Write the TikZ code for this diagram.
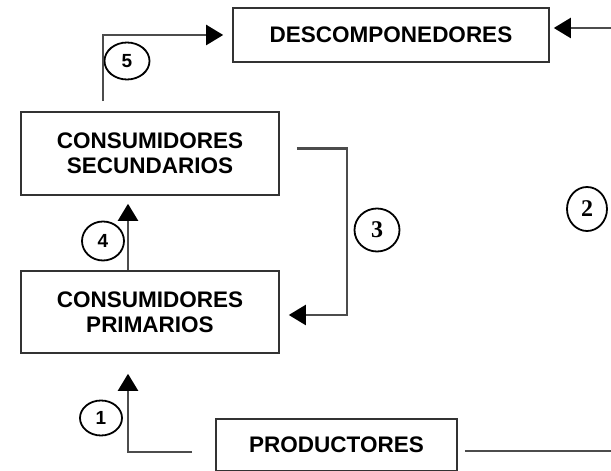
\documentclass[tikz,border=0pt]{standalone}
\usepackage{fontspec}
\setmainfont{Liberation Sans}
\newfontfamily\serifnum{Liberation Serif}
\usetikzlibrary{arrows.meta}
\usetikzlibrary{shapes.geometric}

\tikzset{
  caja/.style={draw=black!80,line width=1.6pt,font=\fontsize{22.5}{25}\selectfont\bfseries,align=center,inner sep=0pt},
  flujo/.style={draw=black!70,line width=2.2pt,-{Triangle[length=17pt,width=20pt]},arrows={[color=black]}},
  num/.style={ellipse,draw,line width=1.8pt,inner sep=0pt,font=\fontsize{19}{21}\selectfont\bfseries},
  numr/.style={num,font=\fontsize{24}{26}\selectfont\serifnum\bfseries}
}

\begin{document}
\begin{tikzpicture}[x=1pt,y=1pt]
\useasboundingbox (0,0) rectangle (611,471);
\fill[white] (0,0) rectangle (611,471);
\node[caja,minimum width=316pt,minimum height=54pt] (desc) at (391,436) {DESCOMPONEDORES};
\node[caja,minimum width=258pt,minimum height=83pt] (sec) at (150,317.5) {CONSUMIDORES\\SECUNDARIOS};
\node[caja,minimum width=258pt,minimum height=82pt] (prim) at (150,159) {CONSUMIDORES\\PRIMARIOS};
\node[caja,minimum width=241pt,minimum height=52pt] (prod) at (336.5,26) {PRODUCTORES};
\node[num,minimum width=42pt,minimum height=35pt] (n1) at (101,53) {1};
\node[numr,minimum width=40pt,minimum height=44pt] (n2) at (587,262) {2};
\node[numr,minimum width=45pt,minimum height=43pt] (n3) at (377,241) {3};
\node[num,minimum width=42pt,minimum height=39pt] (n4) at (103,230) {4};
\node[num,minimum width=45pt,minimum height=37pt] (n5) at (127,410) {5};
\draw[flujo,shorten >=9pt] ([xshift=-47pt,yshift=10pt]sec.north) |- (desc.west);
\draw[flujo,shorten >=4pt] ([shift={(7pt,-6pt)}]prod.east) -- ++(200pt,0) |- ([yshift=7pt]desc.east);
\draw[flujo,shorten >=9pt] ([shift={(17pt,5pt)}]sec.east) -- ++(50pt,0) |- ([yshift=-3pt]prim.east);
\draw[flujo,shorten >=8pt] ([xshift=-22pt]prim.north) -- ([xshift=-22pt]sec.south);
\draw[flujo,shorten >=20pt] ([shift={(-23pt,-7pt)}]prod.west) -| ([xshift=-22pt]prim.south);
\end{tikzpicture}
\end{document}
